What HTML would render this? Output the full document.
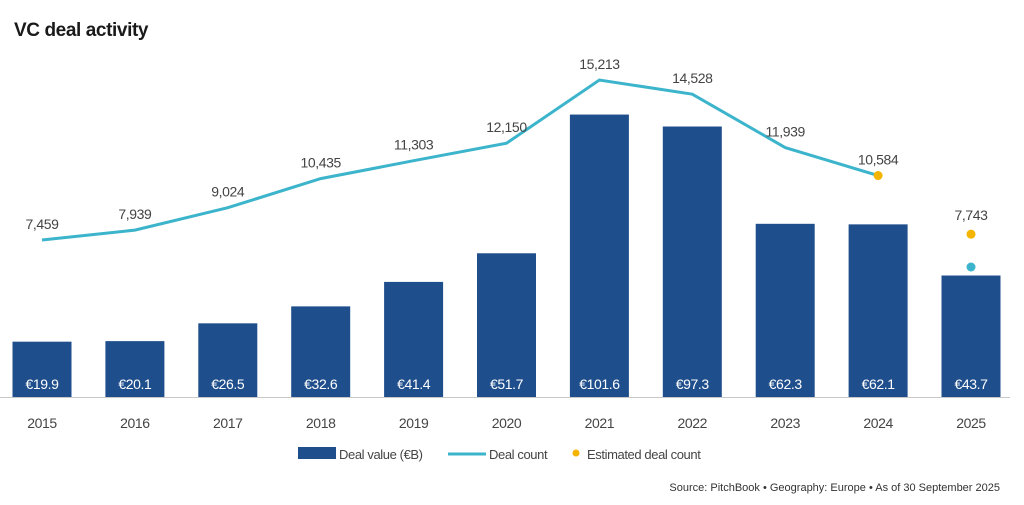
<!DOCTYPE html>
<html><head><meta charset="utf-8"><style>
body{margin:0;background:#fff;width:1024px;height:505px;overflow:hidden;font-family:"Liberation Sans",sans-serif;}
svg{display:block}
text{letter-spacing:-0.4px}
</style></head><body>
<svg id="chart" width="1024" height="505">
<text x="14" y="36" font-size="19" font-weight="bold" fill="#1a1a1a">VC deal activity</text>
<g id="bars"></g><g id="line"></g><g id="labels"></g>
<line x1="0" y1="397.5" x2="1010" y2="397.5" stroke="#c8c8c8" stroke-width="1"/>
<g>
<rect x="298" y="447" width="38" height="12" fill="#1f4e8c"/>
<text x="339" y="459" font-size="13" fill="#444">Deal value (€B)</text>
<line x1="448" y1="454" x2="486" y2="454" stroke="#3bb4cc" stroke-width="3"/>
<text x="489" y="459" font-size="13" fill="#444">Deal count</text>
<circle cx="576" cy="453" r="3.5" fill="#f5b400"/>
<text x="587" y="459" font-size="13" fill="#444">Estimated deal count</text>
</g>
<text x="1000" y="491" font-size="11" fill="#333" text-anchor="end" style="letter-spacing:0">Source: PitchBook  •  Geography: Europe  •  As of 30 September 2025</text>
</svg>
<script>
const years=["2015","2016","2017","2018","2019","2020","2021","2022","2023","2024","2025"];
const dealValue=[19.9,20.1,26.5,32.6,41.4,51.7,101.6,97.3,62.3,62.1,43.7];
const dealValueLabels=["€19.9","€20.1","€26.5","€32.6","€41.4","€51.7","€101.6","€97.3","€62.3","€62.1","€43.7"];
const dealCount=[7459,7939,9024,10435,11303,12150,15213,14528,11939,10584,6150];
const dealCountLabels=["7,459","7,939","9,024","10,435","11,303","12,150","15,213","14,528","11,939","10,584",""];
const estYears=["2024","2025"];
const estCount=[10584,7743];
const estLabels=["","7,743"];
const NS="http://www.w3.org/2000/svg";
const xC=i=>42+92.9*i;
const yV=v=>397-v*2.78;
const yC=v=>240-(v-7459)*0.02063;
function mk(t,a,p){const e=document.createElementNS(NS,t);for(const k in a)e.setAttribute(k,a[k]);p.appendChild(e);return e;}
const bars=document.getElementById('bars'),line=document.getElementById('line'),labels=document.getElementById('labels');
years.forEach((y,i)=>{
 const r=mk('rect',{x:xC(i)-29.5,y:yV(dealValue[i]),width:59,height:397-yV(dealValue[i]),fill:'#1f4e8c'},bars);
 
 
 const t=mk('text',{x:xC(i),y:389,'font-size':14,fill:'#fff','text-anchor':'middle'},labels);t.textContent=dealValueLabels[i];
 
 
 const xt=mk('text',{x:xC(i),y:428,'font-size':14,fill:'#444','text-anchor':'middle'},labels);xt.textContent=y;
 
 
 if(dealCountLabels[i]){const c=mk('text',{x:xC(i),y:yC(dealCount[i])-11,'font-size':14,fill:'#444','text-anchor':'middle'},labels);c.textContent=dealCountLabels[i];
 
 }
});
let d='';for(let i=0;i<years.length-1;i++)d+=(i?'L':'M')+xC(i)+','+yC(dealCount[i]);
const p=mk('path',{d:d,fill:'none',stroke:'#3bb4cc','stroke-width':3},line);


const last=years.length-1;
const lc=mk('circle',{cx:xC(last),cy:yC(dealCount[last]),r:4.5,fill:'#3bb4cc'},line);


estYears.forEach((y,j)=>{const i=years.indexOf(y);
 const c=mk('circle',{cx:xC(i),cy:yC(estCount[j]),r:4.5,fill:'#f5b400'},line);
 
 
 if(estLabels[j]){const t=mk('text',{x:xC(i),y:yC(estCount[j])-14,'font-size':14,fill:'#444','text-anchor':'middle'},labels);t.textContent=estLabels[j];
 
 }
});
</script>
</body></html>
